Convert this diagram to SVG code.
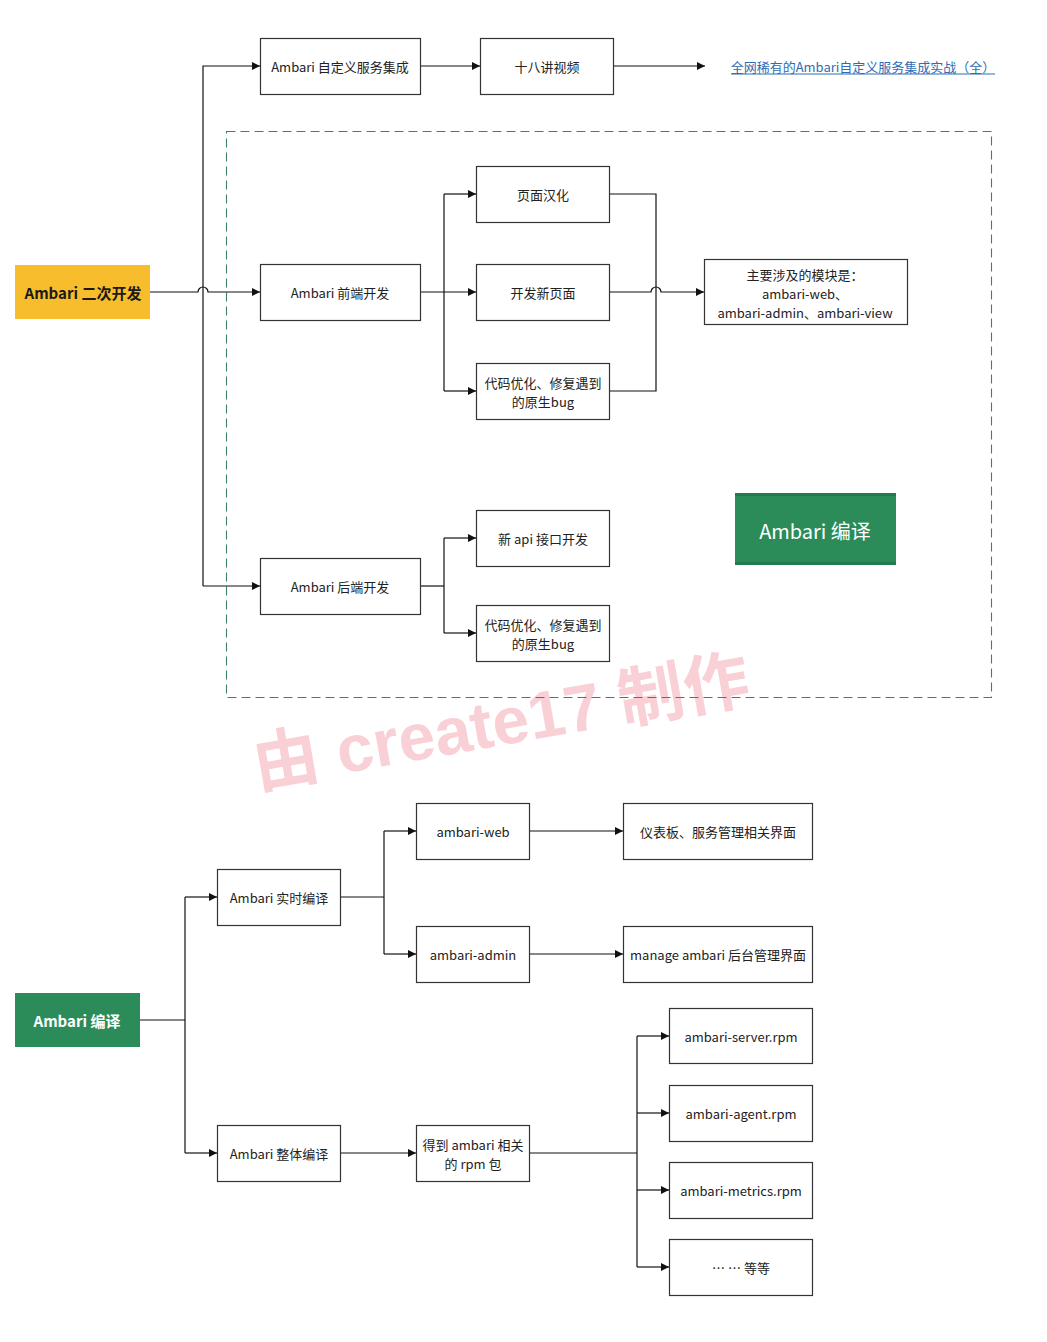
<svg xmlns="http://www.w3.org/2000/svg" width="1047" height="1342" viewBox="0 0 1047 1342">
<defs>
<marker id="arr" markerUnits="userSpaceOnUse" markerWidth="9" markerHeight="8" refX="8" refY="4" orient="auto">
<path d="M0,0 L8,4 L0,8 z" fill="#111"/>
</marker>
</defs>
<style>
.box{fill:#fff;stroke:#333;stroke-width:1.2}
.t{font-family:"Noto Sans CJK SC","Liberation Sans",sans-serif;font-size:13px;fill:#222;text-anchor:middle;dominant-baseline:central}
.c{fill:none;stroke:#111;stroke-width:1.2}
.a{marker-end:url(#arr)}
</style>
<rect x="0" y="0" width="1047" height="1342" fill="#fff"/>

<g id="watermark">
<text x="501" y="722" transform="rotate(-10 501 722)" font-family="&quot;Liberation Sans&quot;,&quot;Noto Sans CJK SC&quot;,sans-serif" font-size="66" font-weight="bold" fill="#f8d0d6" text-anchor="middle" dominant-baseline="central">由 create17 制作</text>
</g>

<g id="frame">
<rect x="226.5" y="131.5" width="765" height="566" fill="none" stroke="#3f7f6e" stroke-width="1.1" stroke-dasharray="9,5"/>
</g>

<g id="connectors">
<path class="c a" d="M203,586 V66 H260"/>
<path class="c a" d="M203,586 H260"/>
<path class="c a" d="M150,292 H198 A5,5 0 0 1 208,292 H260"/>
<path class="c a" d="M420,66 H480"/>
<path class="c a" d="M613,66 H705"/>
<path class="c a" d="M420,292 H476"/>
<path class="c" d="M444,194 V391"/>
<path class="c a" d="M444,194 H476"/>
<path class="c a" d="M444,391 H476"/>
<path class="c" d="M609,194 H656 V391 H609"/>
<path class="c a" d="M609,292 H651 A5,5 0 0 1 661,292 H704"/>
<path class="c" d="M420,586 H444"/>
<path class="c" d="M444,538 V633"/>
<path class="c a" d="M444,538 H476"/>
<path class="c a" d="M444,633 H476"/>

<path class="c" d="M140,1020 H185"/>
<path class="c" d="M185,897 V1153"/>
<path class="c a" d="M185,897 H217"/>
<path class="c a" d="M185,1153 H217"/>
<path class="c" d="M340,897 H384"/>
<path class="c" d="M384,831 V954"/>
<path class="c a" d="M384,831 H416"/>
<path class="c a" d="M384,954 H416"/>
<path class="c a" d="M529,831 H623"/>
<path class="c a" d="M529,954 H623"/>
<path class="c a" d="M340,1153 H416"/>
<path class="c" d="M529,1153 H637"/>
<path class="c" d="M637,1036 V1267"/>
<path class="c a" d="M637,1036 H669"/>
<path class="c a" d="M637,1113 H669"/>
<path class="c a" d="M637,1190 H669"/>
<path class="c a" d="M637,1267 H669"/>
</g>

<g id="n-root">
<rect x="15" y="265" width="135" height="54" fill="#f8bd2c"/>
<text class="t" x="83" y="292" style="font-size:15px;font-weight:bold;fill:#1a1a1a">Ambari 二次开发</text>
</g>
<g id="n-custom">
<rect class="box" x="260.5" y="38.5" width="160" height="56"/>
<text class="t" x="340" y="66">Ambari 自定义服务集成</text>
</g>
<g id="n-video">
<rect class="box" x="480.5" y="38.5" width="133" height="56"/>
<text class="t" x="547" y="66">十八讲视频</text>
</g>
<g id="n-link">
<text class="t" x="863" y="66" style="fill:#2f6cb5">全网稀有的Ambari自定义服务集成实战（全）</text>
<line x1="731" y1="74" x2="995" y2="74" stroke="#2f6cb5" stroke-width="1"/>
</g>
<g id="n-front">
<rect class="box" x="260.5" y="264.5" width="160" height="56"/>
<text class="t" x="340" y="292">Ambari 前端开发</text>
</g>
<g id="n-i18n">
<rect class="box" x="476.5" y="166.5" width="133" height="56"/>
<text class="t" x="543" y="194">页面汉化</text>
</g>
<g id="n-newpage">
<rect class="box" x="476.5" y="264.5" width="133" height="56"/>
<text class="t" x="543" y="292">开发新页面</text>
</g>
<g id="n-fefix">
<rect class="box" x="476.5" y="363.5" width="133" height="56"/>
<text class="t" x="543" y="382">代码优化、修复遇到</text>
<text class="t" x="543" y="401">的原生bug</text>
</g>
<g id="n-modules">
<rect class="box" x="704.5" y="259.5" width="203" height="65"/>
<text class="t" x="805" y="274">主要涉及的模块是：</text>
<text class="t" x="805" y="293">ambari-web、</text>
<text class="t" x="805" y="312">ambari-admin、ambari-view</text>
</g>
<g id="n-compile-tag">
<rect x="735" y="493" width="161" height="72" fill="#2b8c5a"/>
<rect x="735" y="493" width="161" height="3" fill="#237a4c"/>
<rect x="735" y="562" width="161" height="3" fill="#237a4c"/>
<text class="t" x="815" y="530" style="font-size:20px;fill:#fff">Ambari 编译</text>
</g>
<g id="n-back">
<rect class="box" x="260.5" y="558.5" width="160" height="56"/>
<text class="t" x="340" y="586">Ambari 后端开发</text>
</g>
<g id="n-api">
<rect class="box" x="476.5" y="510.5" width="133" height="56"/>
<text class="t" x="543" y="538">新 api 接口开发</text>
</g>
<g id="n-befix">
<rect class="box" x="476.5" y="605.5" width="133" height="56"/>
<text class="t" x="543" y="624">代码优化、修复遇到</text>
<text class="t" x="543" y="643">的原生bug</text>
</g>

<g id="n-compile">
<rect x="15" y="993" width="125" height="54" fill="#2b8c5a"/>
<text class="t" x="77" y="1020" style="font-size:15px;font-weight:bold;fill:#fff">Ambari 编译</text>
</g>
<g id="n-rt">
<rect class="box" x="217.5" y="869.5" width="123" height="56"/>
<text class="t" x="279" y="897">Ambari 实时编译</text>
</g>
<g id="n-web">
<rect class="box" x="416.5" y="803.5" width="113" height="56"/>
<text class="t" x="473" y="831">ambari-web</text>
</g>
<g id="n-dash">
<rect class="box" x="623.5" y="803.5" width="189" height="56"/>
<text class="t" x="718" y="831">仪表板、服务管理相关界面</text>
</g>
<g id="n-admin">
<rect class="box" x="416.5" y="926.5" width="113" height="56"/>
<text class="t" x="473" y="954">ambari-admin</text>
</g>
<g id="n-manage">
<rect class="box" x="623.5" y="926.5" width="189" height="56"/>
<text class="t" x="718" y="954">manage ambari 后台管理界面</text>
</g>
<g id="n-full">
<rect class="box" x="217.5" y="1125.5" width="123" height="56"/>
<text class="t" x="279" y="1153">Ambari 整体编译</text>
</g>
<g id="n-rpm">
<rect class="box" x="416.5" y="1125.5" width="113" height="56"/>
<text class="t" x="473" y="1144">得到 ambari 相关</text>
<text class="t" x="473" y="1163">的 rpm 包</text>
</g>
<g id="n-server">
<rect class="box" x="669.5" y="1008.5" width="143" height="55"/>
<text class="t" x="741" y="1036">ambari-server.rpm</text>
</g>
<g id="n-agent">
<rect class="box" x="669.5" y="1085.5" width="143" height="56"/>
<text class="t" x="741" y="1113">ambari-agent.rpm</text>
</g>
<g id="n-metrics">
<rect class="box" x="669.5" y="1162.5" width="143" height="56"/>
<text class="t" x="741" y="1190">ambari-metrics.rpm</text>
</g>
<g id="n-etc">
<rect class="box" x="669.5" y="1239.5" width="143" height="56"/>
<text class="t" x="741" y="1267">… … 等等</text>
</g>
</svg>
